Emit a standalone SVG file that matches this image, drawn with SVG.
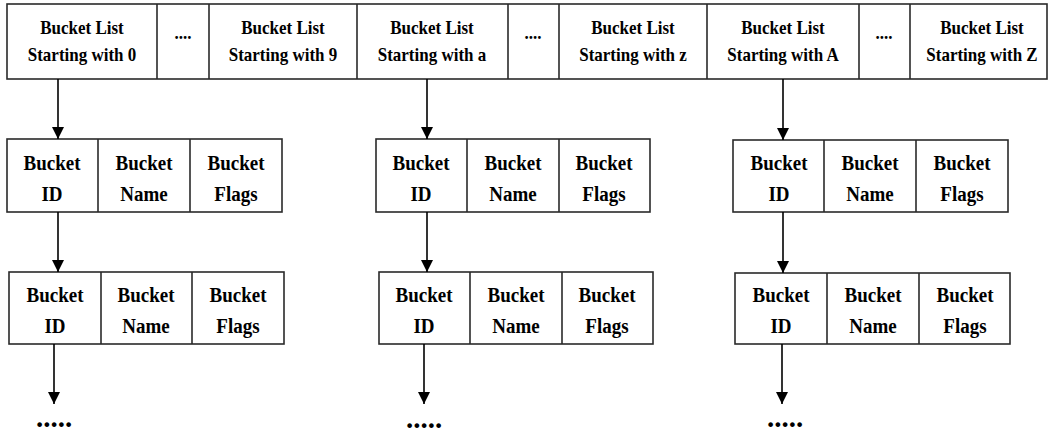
<svg xmlns="http://www.w3.org/2000/svg" width="1053" height="434" viewBox="0 0 1053 434">
<defs>
<style>
.box{fill:#fff;stroke:#2a2a2a;stroke-width:1.6}
.div{stroke:#2a2a2a;stroke-width:1.6}
.t{font-family:"Liberation Serif","Times New Roman",serif;font-weight:bold;fill:#000;text-anchor:middle;transform:scale(1,1.15)}
.top{font-size:17px}
.cell{font-size:19px}
.dots{font-family:"Liberation Serif","Times New Roman",serif;font-weight:bold;fill:#000;font-size:29px}
.edge{stroke:#000;stroke-width:1.6;fill:none;marker-end:url(#ah)}
</style>
<marker id="ah" viewBox="0 0 12 12" refX="12" refY="6" markerWidth="12" markerHeight="12" markerUnits="userSpaceOnUse" orient="auto">
<path d="M0,0 L12,6 L0,12 Z" fill="#000"/>
</marker>
</defs>
<rect width="1053" height="434" fill="#fff"/>

<g id="bucket-list-bar">
<rect class="box" x="7" y="4" width="1040" height="75"/>
<line class="div" x1="157" y1="4" x2="157" y2="79"/>
<line class="div" x1="209" y1="4" x2="209" y2="79"/>
<line class="div" x1="357" y1="4" x2="357" y2="79"/>
<line class="div" x1="508" y1="4" x2="508" y2="79"/>
<line class="div" x1="559" y1="4" x2="559" y2="79"/>
<line class="div" x1="707" y1="4" x2="707" y2="79"/>
<line class="div" x1="859" y1="4" x2="859" y2="79"/>
<line class="div" x1="910" y1="4" x2="910" y2="79"/>
<text class="t top" x="82" y="29.57">Bucket List</text><text class="t top" x="82" y="53.04">Starting with 0</text>
<text class="t top" x="183" y="33.5">....</text>
<text class="t top" x="283" y="29.57">Bucket List</text><text class="t top" x="283" y="53.04">Starting with 9</text>
<text class="t top" x="432" y="29.57">Bucket List</text><text class="t top" x="432" y="53.04">Starting with a</text>
<text class="t top" x="533" y="33.5">....</text>
<text class="t top" x="633" y="29.57">Bucket List</text><text class="t top" x="633" y="53.04">Starting with z</text>
<text class="t top" x="783" y="29.57">Bucket List</text><text class="t top" x="783" y="53.04">Starting with A</text>
<text class="t top" x="884" y="33.5">....</text>
<text class="t top" x="982" y="29.57">Bucket List</text><text class="t top" x="982" y="53.04">Starting with Z</text>
</g>

<g id="node-c1-r1">
<rect class="box" x="7" y="139" width="275" height="73"/>
<line class="div" x1="98" y1="139" x2="98" y2="212"/>
<line class="div" x1="190" y1="139" x2="190" y2="212"/>
<text class="t cell" x="52" y="147.83">Bucket</text><text class="t cell" x="52" y="174.78">ID</text>
<text class="t cell" x="144" y="147.83">Bucket</text><text class="t cell" x="144" y="174.78">Name</text>
<text class="t cell" x="236" y="147.83">Bucket</text><text class="t cell" x="236" y="174.78">Flags</text>
</g>
<g id="node-c1-r2">
<rect class="box" x="9" y="272" width="275" height="72"/>
<line class="div" x1="101" y1="272" x2="101" y2="344"/>
<line class="div" x1="192" y1="272" x2="192" y2="344"/>
<text class="t cell" x="55" y="262.61">Bucket</text><text class="t cell" x="55" y="289.57">ID</text>
<text class="t cell" x="146" y="262.61">Bucket</text><text class="t cell" x="146" y="289.57">Name</text>
<text class="t cell" x="238" y="262.61">Bucket</text><text class="t cell" x="238" y="289.57">Flags</text>
</g>

<g id="node-c2-r1">
<rect class="box" x="376" y="139" width="274" height="73"/>
<line class="div" x1="467" y1="139" x2="467" y2="212"/>
<line class="div" x1="559" y1="139" x2="559" y2="212"/>
<text class="t cell" x="421" y="147.83">Bucket</text><text class="t cell" x="421" y="174.78">ID</text>
<text class="t cell" x="513" y="147.83">Bucket</text><text class="t cell" x="513" y="174.78">Name</text>
<text class="t cell" x="604" y="147.83">Bucket</text><text class="t cell" x="604" y="174.78">Flags</text>
</g>
<g id="node-c2-r2">
<rect class="box" x="379" y="272" width="274" height="72"/>
<line class="div" x1="470" y1="272" x2="470" y2="344"/>
<line class="div" x1="562" y1="272" x2="562" y2="344"/>
<text class="t cell" x="424" y="262.61">Bucket</text><text class="t cell" x="424" y="289.57">ID</text>
<text class="t cell" x="516" y="262.61">Bucket</text><text class="t cell" x="516" y="289.57">Name</text>
<text class="t cell" x="607" y="262.61">Bucket</text><text class="t cell" x="607" y="289.57">Flags</text>
</g>

<g id="node-c3-r1">
<rect class="box" x="733" y="140" width="275" height="72"/>
<line class="div" x1="824" y1="140" x2="824" y2="212"/>
<line class="div" x1="916" y1="140" x2="916" y2="212"/>
<text class="t cell" x="779" y="147.83">Bucket</text><text class="t cell" x="779" y="174.78">ID</text>
<text class="t cell" x="870" y="147.83">Bucket</text><text class="t cell" x="870" y="174.78">Name</text>
<text class="t cell" x="962" y="147.83">Bucket</text><text class="t cell" x="962" y="174.78">Flags</text>
</g>
<g id="node-c3-r2">
<rect class="box" x="735" y="273" width="275" height="71"/>
<line class="div" x1="827" y1="273" x2="827" y2="344"/>
<line class="div" x1="919" y1="273" x2="919" y2="344"/>
<text class="t cell" x="781" y="262.61">Bucket</text><text class="t cell" x="781" y="289.57">ID</text>
<text class="t cell" x="873" y="262.61">Bucket</text><text class="t cell" x="873" y="289.57">Name</text>
<text class="t cell" x="965" y="262.61">Bucket</text><text class="t cell" x="965" y="289.57">Flags</text>
</g>

<g id="continuation">
<text class="dots" x="36" y="427">.....</text>
<text class="dots" x="406" y="428">.....</text>
<text class="dots" x="767" y="427">.....</text>
</g>

<g id="connectors">
<line class="edge" x1="58" y1="79" x2="58" y2="139"/>
<line class="edge" x1="427" y1="79" x2="427" y2="139"/>
<line class="edge" x1="783" y1="79" x2="783" y2="140"/>
<line class="edge" x1="58" y1="212" x2="58" y2="272"/>
<line class="edge" x1="427" y1="212" x2="427" y2="272"/>
<line class="edge" x1="783" y1="212" x2="783" y2="273"/>
<line class="edge" x1="54" y1="344" x2="54" y2="404"/>
<line class="edge" x1="424" y1="344" x2="424" y2="404"/>
<line class="edge" x1="782" y1="344" x2="782" y2="404"/>
</g>
</svg>
